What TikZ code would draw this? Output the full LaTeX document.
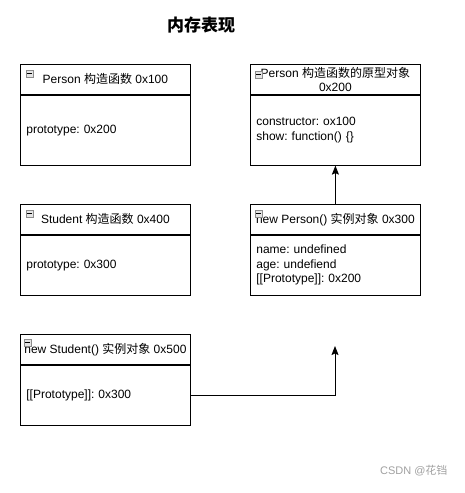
\documentclass[tikz,border=0pt]{standalone}
\usepackage{fontspec}
\setmainfont{Liberation Sans}
\newfontfamily\cjk{Noto Sans CJK SC}
\usetikzlibrary{arrows.meta, positioning}
\definecolor{IconGray}{HTML}{8C8C8C}
\definecolor{IconFill}{HTML}{E4E4E4}
\definecolor{MarkGray}{HTML}{A0A0A0}
\newcommand{\zh}[1]{{\cjk #1}}
\frenchspacing

\begin{document}
\begin{tikzpicture}[
    x=1pt, y=-1pt,
    node distance=0pt,
    head/.style={rectangle, draw, line width=0.8pt, minimum width=170pt, minimum height=30pt, inner ysep=1pt, align=center, font=\fontsize{12}{14}\selectfont},
    body/.style={rectangle, draw, line width=0.8pt, minimum width=170pt, minimum height=70pt, inner xsep=6pt, text width=158pt, align=left, font=\fontsize{12}{14.5}\selectfont},
    icon/.style={rectangle, draw=IconGray, fill=IconFill, line width=0.6pt, minimum size=7pt, inner sep=0pt, anchor=north west},
    arrow/.style={-{Stealth[length=9pt, width=7pt, inset=1.5pt]}, line width=0.9pt}
]
\useasboundingbox (0,0) rectangle (465,493);

\node[font=\fontsize{17}{20}\selectfont\bfseries] (title) at (201,25) {\zh{内存表现}};

\node[head, anchor=north west] (ph) at (20,64) {Person \zh{构造函数} 0x100};
\node[body, below=of ph] (pb) {prototype: 0x200};

\node[head, anchor=north west] (oh) at (250,64) {Person \zh{构造函数的原型对象}\\0x200};
\node[body, below=of oh] (ob) {constructor: ox100\\show: function() \{\}};

\node[head, anchor=north west] (sh) at (20,204) {Student \zh{构造函数} 0x400};
\node[body, below=of sh, minimum height=60pt] (sb) {prototype: 0x300};

\node[head, anchor=north west] (ih) at (250,204) {new Person() \zh{实例对象} 0x300};
\node[body, below=of ih, minimum height=60pt] (ib) {name: undefined\\age: undefiend\\{[[Prototype]]}: 0x200};

\node[head, anchor=north west] (nh) at (20,334) {new Student() \zh{实例对象} 0x500};
\node[body, below=of nh, minimum height=60pt] (nb) {{[[Prototype]]}: 0x300};

% collapse icons
\foreach \h/\dx/\dy in {ph/6/6, oh/5/7, sh/6/6, ih/5/6, nh/4/5}{
  \node[icon] (\h i) at ([shift={(\dx,\dy)}]\h.north west) {};
  \draw[line width=0.7pt] ([xshift=1.3pt]\h i.west) -- ([xshift=-1.3pt]\h i.east);
}

\coordinate (tip) at (335,346);
\draw[arrow] (ih.north) -- (ob.south);
\draw[arrow] (nb.east) -| (tip);

\node[text=MarkGray, font=\fontsize{11}{13}\selectfont, anchor=east] (mark) at (451,471) {CSDN @\zh{花铛}};

\end{tikzpicture}
\end{document}
